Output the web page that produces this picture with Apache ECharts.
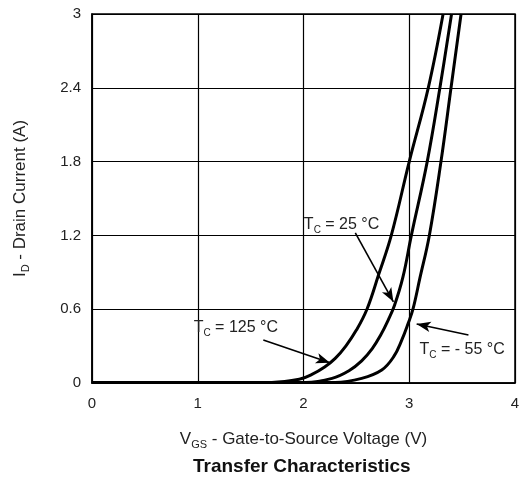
<!DOCTYPE html>
<html>
<head>
<meta charset="utf-8">
<script src="https://cdn.jsdelivr.net/npm/echarts@6/dist/echarts.min.js"></script>
<style>html,body{margin:0;padding:0;background:#fff}#c{width:523px;height:484px}</style>
</head>
<body>
<div id="c"></div>
<script>
// Data (VGS in V, ID in A)
const vgs125 = [0, 1.70, 1.96, 2.08, 2.20, 2.30, 2.40, 2.50, 2.60, 2.71, 2.83, 3.00, 3.18, 3.32];
const id125  = [0.005, 0.005, 0.03, 0.07, 0.13, 0.20, 0.30, 0.43, 0.60, 0.88, 1.2, 1.8, 2.4, 3.0];
const vgs25  = [0, 2.02, 2.27, 2.43, 2.55, 2.65, 2.73, 2.80, 2.86, 2.94, 3.02, 3.17, 3.29, 3.40];
const id25   = [0.005, 0.005, 0.038, 0.10, 0.18, 0.28, 0.39, 0.51, 0.63, 0.86, 1.2, 1.8, 2.4, 3.0];
const vgsM55 = [0, 2.30, 2.55, 2.74, 2.853, 2.93, 2.99, 3.035, 3.10, 3.19, 3.30, 3.395, 3.49];
const idM55  = [0.005, 0.005, 0.038, 0.106, 0.214, 0.35, 0.485, 0.6, 0.85, 1.2, 1.8, 2.4, 3.0];
const xTicks = [0, 1, 2, 3, 4];
const yTicks = [0, 0.6, 1.2, 1.8, 2.4, 3];

const pairs = (xs, ys) => xs.map((x, i) => [x, ys[i]]);

const font = 'Liberation Sans, Arial, sans-serif';
const rich = {
  t: {fontFamily: font, fontSize: 16, color: '#222'},
  s: {fontFamily: font, fontSize: 10, color: '#222', padding: [11, 0, 0, 0]}
};
const richName = {
  t: {fontFamily: font, fontSize: 17, color: '#222'},
  s: {fontFamily: font, fontSize: 11, color: '#222', padding: [11, 0, 0, 0]}
};
function lbl(x, y, txt) {
  return {coord: [x, y], symbol: 'rect', symbolSize: 0,
    label: {show: true, position: 'inside', formatter: txt, rich: rich}};
}
const arrow = (x1, y1, x2, y2) => [{coord: [x1, y1], symbol: 'none'}, {coord: [x2, y2], symbol: 'arrow'}];

const lineStyle = {color: '#000', width: 3};
const chart = echarts.init(document.getElementById('c'), null, {renderer: 'canvas'});
chart.setOption({
  animation: false,
  backgroundColor: '#fff',
  grid: {left: 92, right: 8, top: 14, bottom: 101, show: true, borderColor: '#000', borderWidth: 1.5},
  xAxis: {
    type: 'value', min: 0, max: 4, interval: 1,
    axisLine: {show: true, lineStyle: {color: '#000', width: 1.5}},
    axisTick: {show: false},
    splitLine: {show: true, lineStyle: {color: '#000', width: 1.2}},
    axisLabel: {margin: 13, fontSize: 15, color: '#222', fontFamily: font,
      formatter: v => xTicks.includes(v) ? String(v) : ''},
    name: '{t|V}{s|GS}{t| - Gate-to-Source Voltage (V)}',
    nameLocation: 'middle', nameGap: 45,
    nameTextStyle: {rich: richName}
  },
  yAxis: {
    type: 'value', min: 0, max: 3, interval: 0.6,
    axisLine: {show: true, lineStyle: {color: '#000', width: 1.5}},
    axisTick: {show: false},
    splitLine: {show: true, lineStyle: {color: '#000', width: 1.2}},
    axisLabel: {margin: 11, fontSize: 15, color: '#222', fontFamily: font,
      formatter: v => { const t = yTicks.find(k => Math.abs(k - v) < 1e-6); return t === undefined ? '' : String(t); }},
    name: '{t|I}{s|D}{t| - Drain Current (A)}',
    nameLocation: 'middle', nameGap: 61, nameRotate: 90,
    nameTextStyle: {rich: richName}
  },
  graphic: [{
    type: 'text', left: 193, top: 457,
    style: {text: 'Transfer Characteristics', font: 'bold 19px ' + font, fill: '#111'}
  }],
  series: [
    {type: 'line', data: pairs(vgs125, id125), smooth: 0.4, symbol: 'none', lineStyle: lineStyle,
     markLine: {silent: true, symbolSize: [8, 14], label: {show: false},
       lineStyle: {color: '#000', width: 1.6, type: 'solid'},
       data: [arrow(1.62, 0.35, 2.25, 0.165), arrow(2.49, 1.22, 2.85, 0.66), arrow(3.56, 0.39, 3.07, 0.48)]},
     markPoint: {silent: true, data: [
       lbl(1.36, 0.45, '{t|T}{s|C}{t| = 125 °C}'),
       lbl(2.36, 1.29, '{t|T}{s|C}{t| = 25 °C}'),
       lbl(3.50, 0.27, '{t|T}{s|C}{t| = - 55 °C}')
     ]}},
    {type: 'line', data: pairs(vgs25, id25), smooth: 0.4, symbol: 'none', lineStyle: lineStyle},
    {type: 'line', data: pairs(vgsM55, idM55), smooth: 0.4, symbol: 'none', lineStyle: lineStyle}
  ]
});
</script>
</body>
</html>
